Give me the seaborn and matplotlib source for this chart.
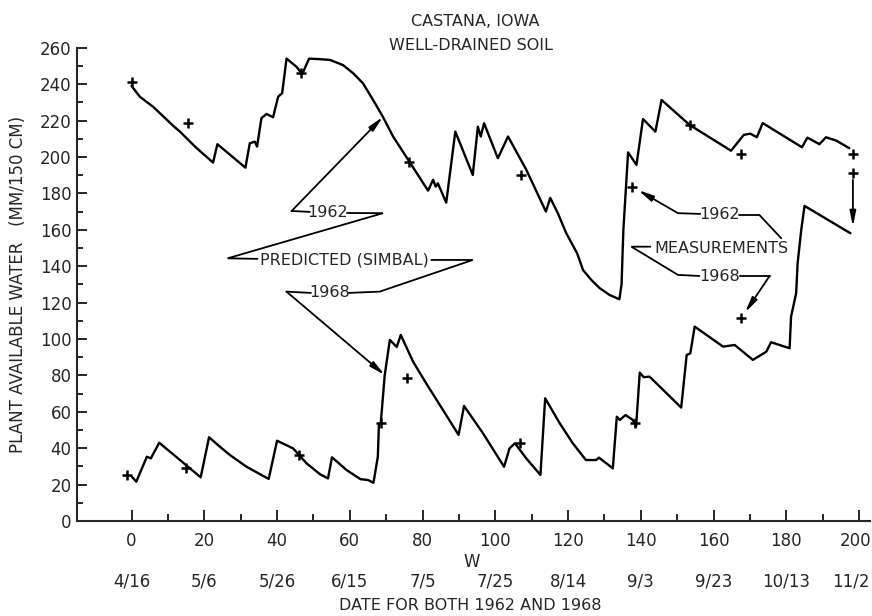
import numpy as np
import pandas as pd
import matplotlib
matplotlib.use("Agg")
import matplotlib.pyplot as plt
import matplotlib.transforms as mtransforms
from matplotlib.ticker import FixedLocator
import seaborn as sns

# Predicted plant-available water (SIMBAL), 1962 season
w_1962 = [0, 2.3, 5.9, 11.5, 13.3, 17.9, 22.4, 23.6, 31.3, 32.5, 33.9, 34.5, 35.7,
          37.1, 38.9, 40.3, 41.4, 42.6, 45.3, 46.9, 48.8, 51.7, 54.5, 58.1, 60.9,
          63.6, 66.4, 69.1, 71.9, 76.5, 81.5, 82.9, 83.6, 84.2, 86.5, 89.0, 93.8,
          95.2, 96.0, 96.9, 100.7, 103.5, 108.5, 113.9, 115.1, 117.2, 119.5, 122.5,
          124.1, 126.4, 128.7, 131.4, 134.1, 134.7, 135.2, 136.5, 138.8, 140.6,
          144.0, 145.7, 153.4, 164.8, 168.3, 170.1, 171.9, 173.5, 184.3, 185.8,
          189.1, 190.9, 193.7, 197.3]
water_1962 = [239, 233, 227.6, 217, 213.9, 204.8, 196.9, 207, 194.1, 207.5, 208.4,
              205.7, 221.3, 223.6, 221.8, 233.1, 235, 254, 249.6, 245.5, 254, 253.7,
              253.3, 250.5, 246, 240.5, 231.3, 222, 211.2, 197, 181.5, 187.4, 183.7,
              185.5, 174.9, 213.9, 190.1, 216.6, 211.2, 218.5, 199.3, 211.2, 193,
              170, 177.5, 169, 158.1, 147, 137.9, 132.4, 127.9, 124.2, 121.8, 130,
              160, 202.5, 195.6, 220.8, 213.9, 231.3, 217.6, 203.4, 212.1, 212.8,
              210.8, 218.6, 205.3, 210.6, 207, 210.8, 209, 204.8]

# Predicted plant-available water (SIMBAL), 1968 season
w_1968 = [0, 1.3, 4.2, 5.3, 7.6, 13.3, 19.0, 21.3, 24.3, 27.0, 31.6, 37.7, 40.0,
          44.4, 48.1, 51.8, 54.0, 55.1, 59.1, 62.9, 65.0, 66.5, 67.7, 68.0, 68.5,
          69.6, 71.0, 72.9, 74.0, 77.4, 81.0, 85.6, 89.9, 91.4, 96.6, 102.4, 103.9,
          105.4, 108.5, 112.4, 113.7, 117.7, 121.3, 124.9, 127.7, 128.5, 132.3,
          133.4, 134.2, 135.8, 137.8, 138.7, 139.7, 140.8, 142.4, 151.1, 152.6,
          153.6, 154.8, 162.6, 165.8, 170.8, 174.5, 175.8, 180.9, 181.3, 182.7,
          183.1, 184.1, 185.0, 197.6]
water_1968 = [24.5, 21.6, 35.3, 34.4, 43, 33.5, 24, 46, 40.8, 36.3, 29.8, 23.1, 44.1,
              39.9, 31.7, 25.7, 23.4, 35, 28, 23, 22.5, 21, 35.3, 52.7, 53.7, 80.2,
              99.5, 95.6, 102.2, 87.5, 75.6, 61, 47.3, 63.2, 48.2, 29.8, 39.9, 42.7,
              34.4, 25.3, 67.4, 53.7, 42.7, 33.5, 33.5, 34.8, 28.9, 57.3, 55.5, 58.2,
              55.5, 51.8, 81.5, 79, 79.3, 62.3, 91.2, 92.1, 106.8, 95.8, 96.7, 88.5,
              93, 98.2, 94.9, 112.3, 125.1, 141.6, 159.9, 173.1, 158.1]

# Field measurements
w_meas_1962 = [0, 15.6, 46.5, 76.2, 107.0, 137.6, 153.4, 167.6, 198.3]
water_meas_1962 = [241.4, 218.5, 246, 197.4, 190.1, 183.7, 217.6, 201.6, 201.6]
w_meas_1968 = [-1.2, 14.9, 46.0, 68.5, 75.8, 106.7, 138.3, 167.6, 198.3]
water_meas_1968 = [25.3, 29, 36.3, 53.7, 78.4, 43, 53.7, 111.4, 191.4]

# Axis labelling
w_ticks = list(range(0, 201, 20))
date_labels = ["4/16", "5/6", "5/26", "6/15", "7/5", "7/25", "8/14", "9/3",
               "9/23", "10/13", "11/2"]

sns.set_style("ticks")
plt.rcParams["font.family"] = ["DejaVu Sans"]

W, H = 872, 616
fig = plt.figure(figsize=(W / 100, H / 100), dpi=100)
ax = fig.add_axes([77 / W, 1 - 521 / H, (870 - 77) / W, (521 - 47.7) / H])

pred = pd.concat([
    pd.DataFrame({"W": w_1962, "water": water_1962, "year": "1962"}),
    pd.DataFrame({"W": w_1968, "water": water_1968, "year": "1968"}),
])
meas = pd.concat([
    pd.DataFrame({"W": w_meas_1962, "water": water_meas_1962, "year": "1962"}),
    pd.DataFrame({"W": w_meas_1968, "water": water_meas_1968, "year": "1968"}),
])

sns.lineplot(data=pred, x="W", y="water", units="year", estimator=None, sort=False,
             color="black", lw=1.7, ax=ax, legend=False)
sns.scatterplot(data=meas, x="W", y="water", marker="+", s=45, color="black",
                linewidth=1.8, ax=ax, legend=False, zorder=3)

ax.set_xlim(-15, 203)
ax.set_ylim(0, 260)
ax.set_xlabel("")
ax.set_ylabel("")
sns.despine(ax=ax)
for side in ("left", "bottom"):
    ax.spines[side].set_linewidth(1.5)

ax.set_xticks(w_ticks)
ax.xaxis.set_minor_locator(FixedLocator(list(range(10, 200, 20))))
ax.set_yticks(range(0, 261, 20))
ax.yaxis.set_minor_locator(FixedLocator(list(range(10, 260, 20))))
ax.tick_params(which="both", direction="in", width=1.4, labelsize=12)
ax.tick_params(axis="x", which="major", length=8, pad=8)
ax.tick_params(axis="x", which="minor", length=5)
ax.tick_params(axis="y", which="major", length=7.5, pad=4)
ax.tick_params(axis="y", which="minor", length=4)

# keep the rightmost day label inside the canvas
fig.canvas.draw()
last = ax.xaxis.get_major_ticks()[-1].label1
last.set_transform(last.get_transform() +
                   mtransforms.ScaledTranslation(-4 / 100, 0, fig.dpi_scale_trans))

# Date row under the day-number axis
blend = mtransforms.blended_transform_factory(ax.transData, fig.transFigure)
for w, lab in zip(w_ticks, date_labels):
    if w == w_ticks[-1]:
        ax.text(1.0, 1 - 582 / H, lab, ha="right", va="center", fontsize=12,
                transform=mtransforms.blended_transform_factory(ax.transAxes,
                                                                fig.transFigure))
    else:
        ax.text(w, 1 - 582 / H, lab, transform=blend, ha="center",
                va="center", fontsize=12)

fig.text(471.7 / W, 1 - 561.7 / H, "W", ha="center", va="center", fontsize=12)
fig.text(470 / W, 1 - 605 / H, "DATE FOR BOTH 1962 AND 1968", ha="center",
         va="center", fontsize=11.5)
fig.text(18 / W, 1 - 284 / H, "PLANT AVAILABLE WATER   (MM/150 CM)",
         rotation=90, ha="center", va="center", fontsize=12)
fig.text(475 / W, 1 - 21 / H, "CASTANA, IOWA", ha="center", va="center",
         fontsize=11.5)
fig.text(471 / W, 1 - 46 / H, "WELL-DRAINED SOIL", ha="center", va="center",
         fontsize=11.5)

# Leader lines and callouts
lead = dict(color="black", lw=1.3, clip_on=False, solid_joinstyle="miter")
arrow = dict(arrowstyle="-|>,head_length=0.9,head_width=0.18", color="black",
             lw=1.3, shrinkA=0, shrinkB=0)
lab_kw = dict(ha="center", va="center", fontsize=11.5)


def polyline(points):
    xs, ys = zip(*points)
    ax.plot(xs, ys, **lead)


def pointer(start, end, shrink=0):
    props = dict(arrow)
    props["shrinkB"] = shrink
    ax.annotate("", xy=end, xytext=start, arrowprops=props)


target_62 = (69.1, float(np.interp(69.1, w_1962, water_1962)))
target_68 = (69.6, float(np.interp(69.6, w_1968, water_1968)))

ax.text(54.0, 169.2, "1962", **lab_kw)
ax.text(58.6, 143.4, "PREDICTED (SIMBAL)", **lab_kw)
ax.text(54.5, 125.3, "1968", **lab_kw)
polyline([(49.0, 169.8), (44.0, 170.3)])
pointer((44.0, 170.3), target_62)
polyline([(59.2, 169.2), (69.1, 169.1), (26.4, 144.3), (34.6, 144.0)])
polyline([(82.4, 143.4), (93.8, 143.4), (68.2, 126.0), (59.7, 125.3)])
polyline([(49.3, 125.3), (42.6, 126.0)])
pointer((42.6, 126.0), target_68)

ax.text(161.6, 168.1, "1962", **lab_kw)
ax.text(162.1, 149.8, "MEASUREMENTS", **lab_kw)
ax.text(161.6, 134.2, "1968", **lab_kw)
polyline([(156.3, 168.7), (150.2, 169.1)])
pointer((150.2, 169.1), (w_meas_1962[5], water_meas_1962[5]), shrink=5)
polyline([(167.0, 168.1), (172.6, 168.1), (178.6, 155.3)])
polyline([(142.6, 150.7), (137.4, 150.7), (150.2, 135.2), (156.1, 134.6)])
polyline([(167.3, 134.6), (175.4, 134.6)])
pointer((175.4, 134.6), (w_meas_1968[7], water_meas_1968[7]), shrink=5)
pointer((198.3, 187.4), (198.3, 161.7))

fig.savefig("out.png", dpi=100)
